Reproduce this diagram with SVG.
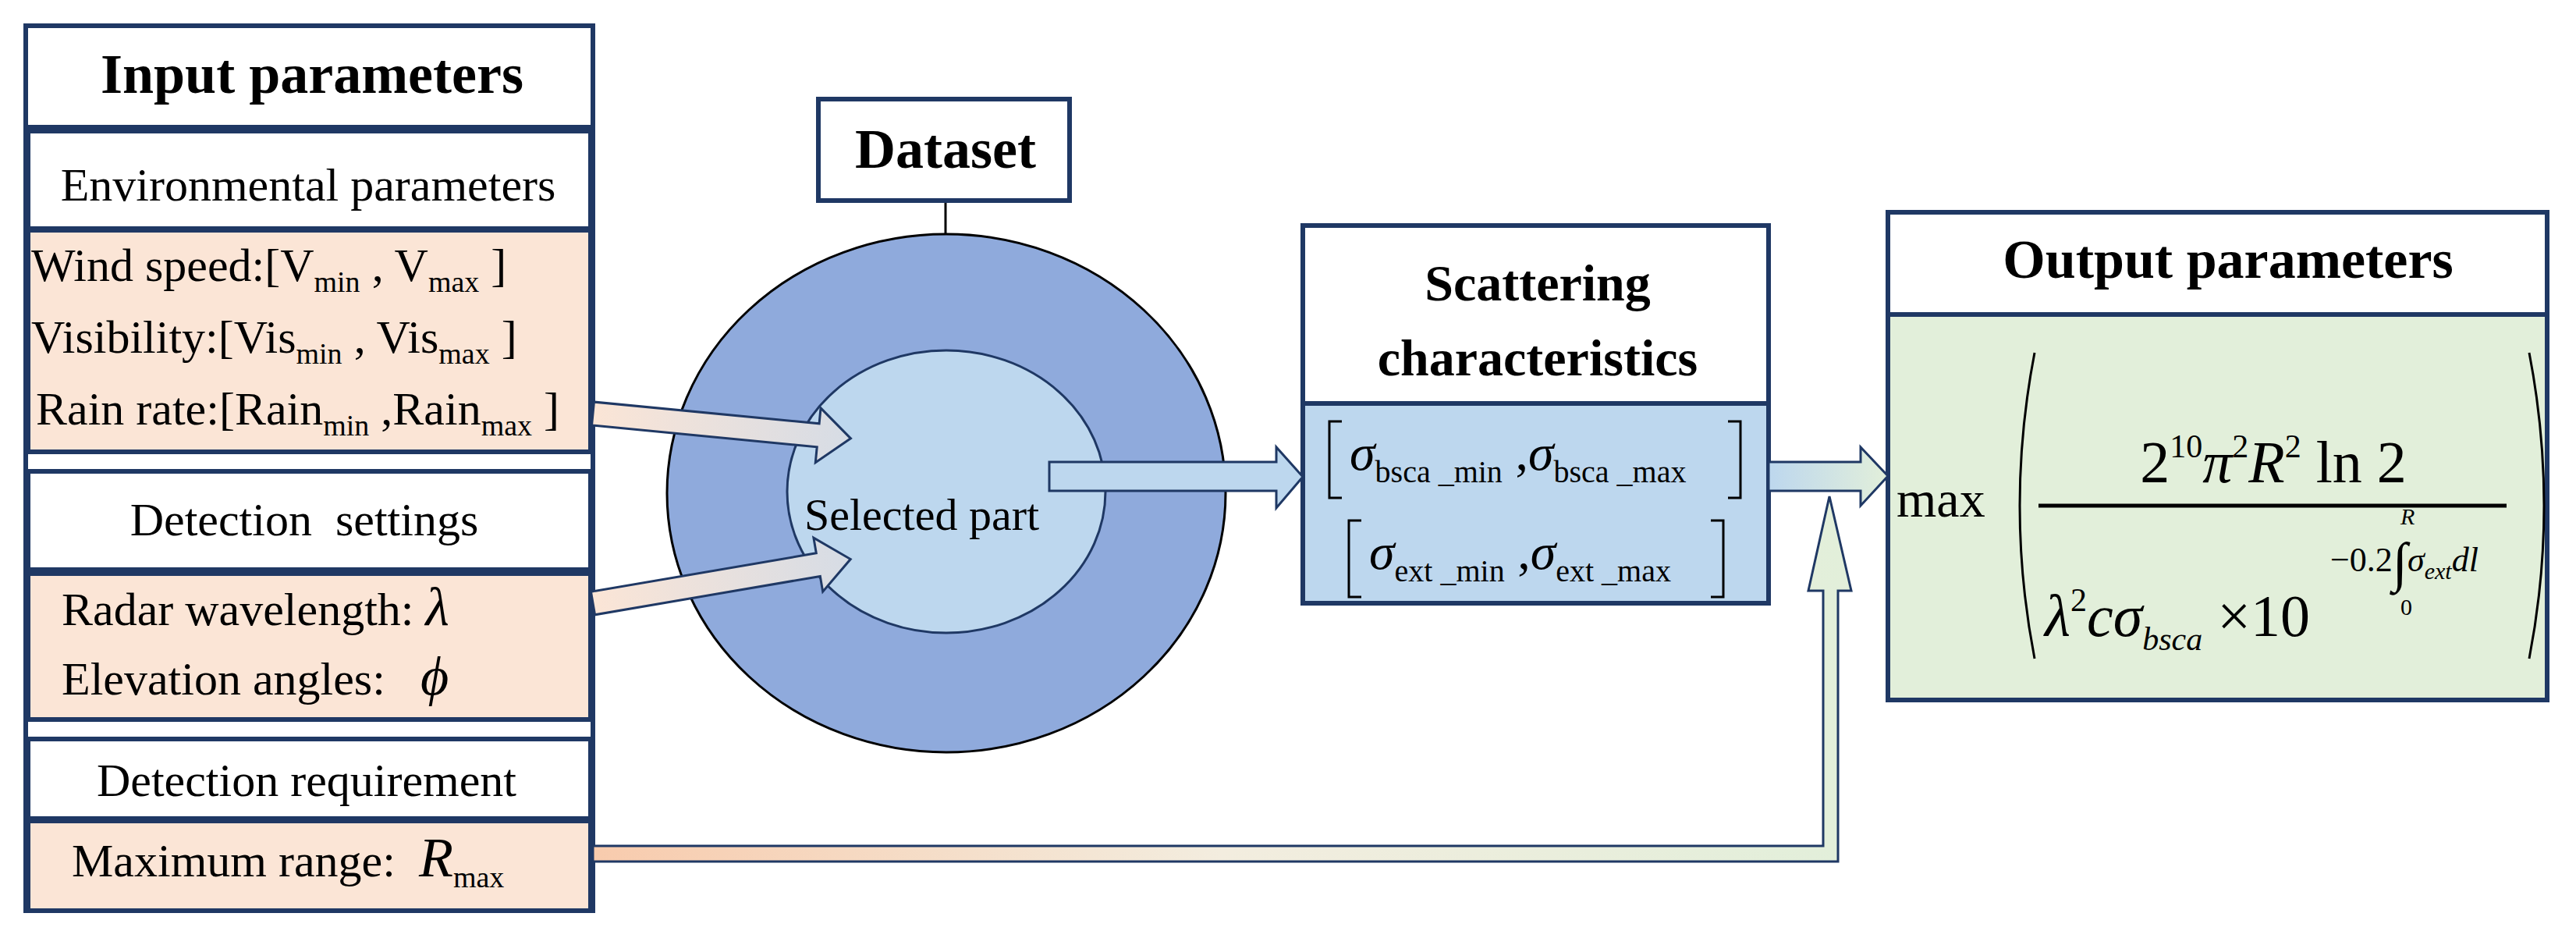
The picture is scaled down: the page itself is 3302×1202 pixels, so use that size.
<svg xmlns="http://www.w3.org/2000/svg" width="3302" height="1202" viewBox="0 0 3302 1202">
<style>
.b{stroke:#1f3864;stroke-width:6}
.t{font-family:"Liberation Serif",serif;fill:#000}
.bold{font-weight:bold}
.s{font-size:38px}
.i{font-style:italic}
</style>
<defs>
<linearGradient id="ga" x1="0" y1="0" x2="1" y2="0"><stop offset="0" stop-color="#fbe5d6"/><stop offset="1" stop-color="#d6dce5"/></linearGradient>
<linearGradient id="gp" gradientUnits="userSpaceOnUse" x1="760" y1="0" x2="2370" y2="0"><stop offset="0" stop-color="#f8cbad"/><stop offset="0.5" stop-color="#f3eddf"/><stop offset="1" stop-color="#e2efda"/></linearGradient>
<linearGradient id="gs" x1="0" y1="0" x2="1" y2="0"><stop offset="0" stop-color="#bdd7ee"/><stop offset="1" stop-color="#e2efda"/></linearGradient>
</defs>
<g id="input">
<rect x="33" y="33" width="727" height="1134" fill="#fff" class="b"/>
<rect x="33" y="33" width="727" height="130" fill="#fff" class="b"/>
<text x="400" y="119" text-anchor="middle" class="t bold" font-size="72">Input parameters</text>
<rect x="36" y="168" width="721" height="125" fill="#fff" class="b" stroke-width="4"/>
<text x="395" y="257" text-anchor="middle" class="t" font-size="60">Environmental parameters</text>
<rect x="36" y="295" width="721" height="284" fill="#fbe5d6" class="b" stroke-width="4"/>
<text x="40" y="360" class="t" font-size="60">Wind speed:[V<tspan class="s" dy="14">min</tspan><tspan dy="-14"> , V</tspan><tspan class="s" dy="14">max</tspan><tspan dy="-14"> ]</tspan></text>
<text x="40" y="452" class="t" font-size="60">Visibility:[Vis<tspan class="s" dy="14">min</tspan><tspan dy="-14"> , Vis</tspan><tspan class="s" dy="14">max</tspan><tspan dy="-14"> ]</tspan></text>
<text x="46" y="544" class="t" font-size="60">Rain rate:[Rain<tspan class="s" dy="14">min</tspan><tspan dy="-14"> ,Rain</tspan><tspan class="s" dy="14">max</tspan><tspan dy="-14"> ]</tspan></text>
<rect x="36" y="604" width="721" height="126" fill="#fff" class="b" stroke-width="4"/>
<text x="390" y="686" text-anchor="middle" class="t" font-size="60" xml:space="preserve">Detection  settings</text>
<rect x="36" y="735" width="721" height="187" fill="#fbe5d6" class="b" stroke-width="4"/>
<text x="79" y="801" class="t" font-size="60">Radar wavelength: <tspan class="i" font-size="70">λ</tspan></text>
<text x="79" y="890" class="t" font-size="60" xml:space="preserve">Elevation angles:   <tspan class="i" font-size="70">ϕ</tspan></text>
<rect x="36" y="947" width="721" height="102" fill="#fff" class="b" stroke-width="4"/>
<text x="393" y="1020" text-anchor="middle" class="t" font-size="60">Detection requirement</text>
<rect x="36" y="1052" width="721" height="115" fill="#fbe5d6" class="b" stroke-width="4"/>
<text x="92" y="1123" class="t" font-size="60" xml:space="preserve">Maximum range:  <tspan class="i" font-size="72">R</tspan><tspan class="s" font-size="42" dy="14">max</tspan></text>
</g>
<g id="dataset">
<line x1="1212" y1="257" x2="1212" y2="300" stroke="#000" stroke-width="3"/>
<rect x="1049" y="127" width="322" height="130" fill="#fff" class="b" stroke-width="4"/>
<text x="1212" y="215" text-anchor="middle" class="t bold" font-size="72">Dataset</text>
<ellipse cx="1213" cy="632" rx="358" ry="332" fill="#8faadc" stroke="#000" stroke-width="3"/>
<ellipse cx="1213" cy="630" rx="204" ry="181" fill="#bdd7ee" stroke="#1f3864" stroke-width="3"/>
<text x="1031" y="679" class="t" font-size="58">Selected part</text>
</g>
<g id="scattering">
<rect x="1670" y="289" width="597" height="484" fill="#bdd7ee" class="b" stroke-width="5"/>
<rect x="1670" y="289" width="597" height="228" fill="#fff" class="b" stroke-width="5"/>
<text x="1971" y="385" text-anchor="middle" class="t bold" font-size="66">Scattering</text>
<text x="1971" y="481" text-anchor="middle" class="t bold" font-size="66">characteristics</text>
<path d="M1720,540 h-16 v98 h16 M2215,540 h16 v98 h-16 M1745,667 h-16 v98 h16 M2193,667 h16 v98 h-16" fill="none" stroke="#000" stroke-width="3"/>
<text x="1730" y="602" class="t" font-size="66"><tspan class="i">σ</tspan><tspan font-size="40" dy="16">bsca _min</tspan><tspan dy="-16"> ,</tspan><tspan class="i">σ</tspan><tspan font-size="40" dy="16">bsca _max</tspan></text>
<text x="1755" y="729" class="t" font-size="66"><tspan class="i">σ</tspan><tspan font-size="40" dy="16">ext _min</tspan><tspan dy="-16"> ,</tspan><tspan class="i">σ</tspan><tspan font-size="40" dy="16">ext _max</tspan></text>
</g>
<g id="output">
<rect x="2420" y="272" width="845" height="625" fill="#e2efda" class="b" stroke-width="5"/>
<rect x="2420" y="272" width="845" height="131" fill="#fff" class="b" stroke-width="5"/>
<text x="2856" y="356" text-anchor="middle" class="t bold" font-size="70">Output parameters</text>
<text x="2431" y="662" class="t" font-size="66">max</text>
<path d="M2608,452 Q2570,648 2608,844 M3242,452 Q3280,648 3242,844" fill="none" stroke="#000" stroke-width="3"/>
<line x1="2613" y1="648" x2="3213" y2="648" stroke="#000" stroke-width="5"/>
<text x="2914" y="618" text-anchor="middle" class="t" font-size="76">2<tspan font-size="42" dy="-32">10</tspan><tspan class="i" dy="32">π</tspan><tspan font-size="42" dy="-32">2</tspan><tspan class="i" dy="32">R</tspan><tspan font-size="42" dy="-32">2</tspan><tspan dy="32"> ln 2</tspan></text>
<text x="2621" y="815" class="t" font-size="76"><tspan class="i">λ</tspan><tspan font-size="42" dy="-32">2</tspan><tspan class="i" dy="32">cσ</tspan><tspan class="i" font-size="42" dy="18">bsca</tspan><tspan dy="-18"> ×10</tspan></text>
<text x="2987" y="732" class="t" font-size="44">−0.2<tspan font-size="70" dy="12">∫</tspan><tspan class="i" dy="-12">σ</tspan><tspan class="i" font-size="30" dy="10">ext</tspan><tspan class="i" dy="-10">dl</tspan></text>
<text x="3077" y="672" class="t i" font-size="30">R</text>
<text x="3077" y="788" class="t" font-size="30">0</text>
</g>
<g id="connectors" stroke="#1f3864" stroke-width="3" stroke-linejoin="miter">
<polygon transform="translate(760,530) rotate(5.5)" points="0,-15 290,-15 290,-35 332,0 290,35 290,15 0,15" fill="url(#ga)"/>
<polygon transform="translate(760,773) rotate(-9.7)" points="0,-15 293,-15 293,-35 335,0 293,35 293,15 0,15" fill="url(#ga)"/>
<polygon points="1345,592 1636,592 1636,573 1670,611 1636,651 1636,629 1345,629" fill="#bdd7ee"/>
<polygon points="2267,592 2385,592 2385,573 2420,610 2385,648 2385,629 2267,629" fill="url(#gs)"/>
<polygon points="760,1084 2337,1084 2337,757 2318,757 2345,636 2373,757 2356,757 2356,1104 760,1104" fill="url(#gp)"/>
</g>
</svg>
